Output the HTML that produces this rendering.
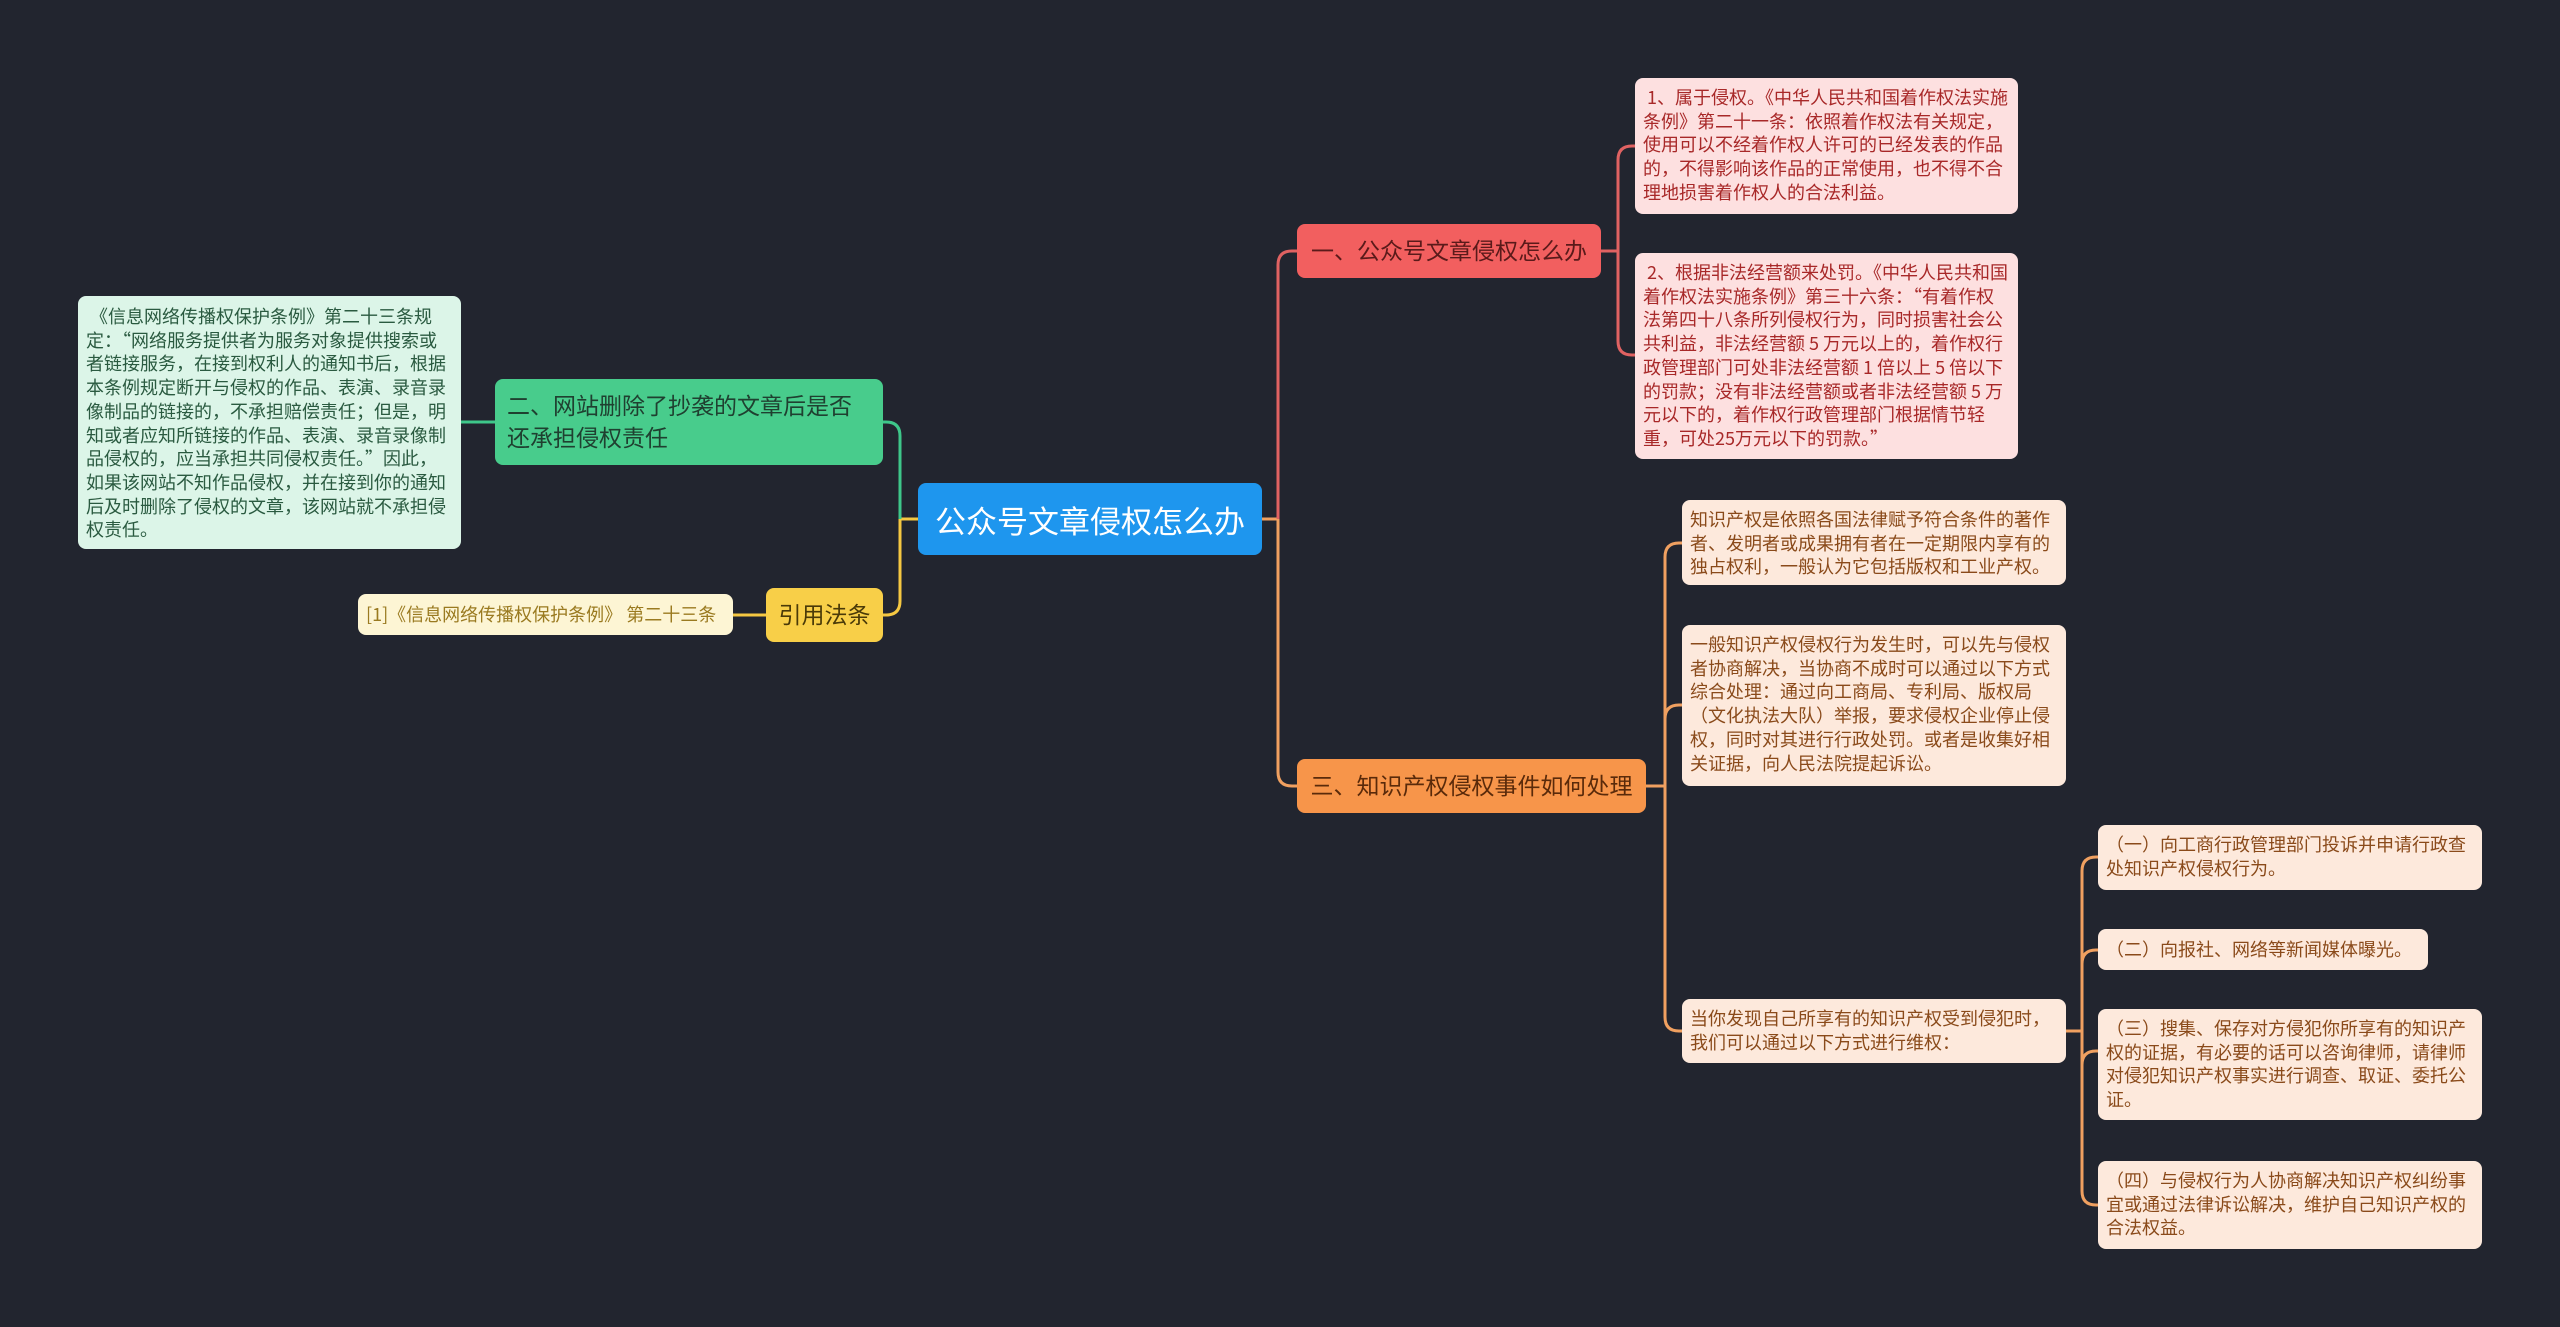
<!DOCTYPE html>
<html><head><meta charset="utf-8"><style>
html,body{margin:0;padding:0}
body{width:2560px;height:1327px;background:#22252f;position:relative;overflow:hidden;font-family:"Liberation Sans","Noto Sans CJK SC",sans-serif}
.n{position:absolute;box-sizing:border-box;border-radius:8px}
.leaf{font-family:"Noto Sans CJK SC",sans-serif;font-size:18px;line-height:23.7px;padding:8px 8px 6px;word-break:break-all}
.br{font-size:23px;line-height:32px;padding:0 12px;display:flex;align-items:center}
svg{position:absolute;left:0;top:0}
</style></head><body>
<svg width="2560" height="1327" fill="none" stroke-width="3">
<path d="M1262 519 H1278" stroke="#f0a060"/>
<path d="M1278 519 V265 Q1278 251 1292 251 H1297" stroke="#e06262"/>
<path d="M1278 519 V772 Q1278 786 1292 786 H1297" stroke="#f0a060"/>
<path d="M1601 251 H1618" stroke="#e06262"/>
<path d="M1618 251 V160 Q1618 146 1632 146 H1635" stroke="#e06262"/>
<path d="M1618 251 V341 Q1618 355 1632 355 H1635" stroke="#e06262"/>
<path d="M1646 786 H1665" stroke="#f0a060"/>
<path d="M1665 786 V557 Q1665 543 1679 543 H1682" stroke="#f0a060"/>
<path d="M1665 786 V719 Q1665 705 1679 705 H1682" stroke="#f0a060"/>
<path d="M1665 786 V1017 Q1665 1031 1679 1031 H1682" stroke="#f0a060"/>
<path d="M2066 1031 H2082" stroke="#f0a060"/>
<path d="M2082 1031 V871 Q2082 857 2096 857 H2098" stroke="#f0a060"/>
<path d="M2082 1031 V964 Q2082 950 2096 950 H2098" stroke="#f0a060"/>
<path d="M2082 1031 V1065 Q2082 1051 2096 1051 H2098" stroke="#f0a060"/>
<path d="M2082 1031 V1191 Q2082 1205 2096 1205 H2098" stroke="#f0a060"/>
<path d="M918 519 H900" stroke="#f5c842"/>
<path d="M900 519 V436 Q900 422 886 422 H883" stroke="#3ec78a"/>
<path d="M900 519 V601 Q900 615 886 615 H883" stroke="#f5c842"/>
<path d="M495 422 H460" stroke="#3ec78a"/>
<path d="M766 615 H733" stroke="#f5c842"/>
</svg>

<div class="n" style="left:918px;top:483px;width:344px;height:72px;background:#1e96ee;color:#fff;font-size:31px;display:flex;align-items:center;justify-content:center">公众号文章侵权怎么办</div>

<div class="n br" style="left:1297px;top:224px;width:304px;height:54px;background:#f25f5f;color:#5a1a1a;justify-content:center">一、公众号文章侵权怎么办</div>
<div class="n leaf" style="left:1635px;top:78px;width:383px;height:136px;background:#fde0e0;color:#a82828">&nbsp;1、属于侵权。《中华人民共和国着作权法实施条例》第二十一条：依照着作权法有关规定，使用可以不经着作权人许可的已经发表的作品的，不得影响该作品的正常使用，也不得不合理地损害着作权人的合法利益。</div>
<div class="n leaf" style="left:1635px;top:253px;width:383px;height:206px;background:#fde0e0;color:#a82828">&nbsp;2、根据非法经营额来处罚。《中华人民共和国着作权法实施条例》第三十六条：“有着作权法第四十八条所列侵权行为，同时损害社会公共利益，非法经营额 5 万元以上的，着作权行政管理部门可处非法经营额 1 倍以上 5 倍以下的罚款；没有非法经营额或者非法经营额 5 万元以下的，着作权行政管理部门根据情节轻重，可处25万元以下的罚款。”</div>

<div class="n br" style="left:1297px;top:759px;width:349px;height:54px;background:#f7954a;color:#5a2a0a;justify-content:center">三、知识产权侵权事件如何处理</div>
<div class="n leaf" style="left:1682px;top:500px;width:384px;height:85px;background:#fde9dc;color:#8a4a1a">知识产权是依照各国法律赋予符合条件的著作者、发明者或成果拥有者在一定期限内享有的独占权利，一般认为它包括版权和工业产权。</div>
<div class="n leaf" style="left:1682px;top:625px;width:384px;height:161px;background:#fde9dc;color:#8a4a1a">一般知识产权侵权行为发生时，可以先与侵权者协商解决，当协商不成时可以通过以下方式综合处理：通过向工商局、专利局、版权局（文化执法大队）举报，要求侵权企业停止侵权，同时对其进行行政处罚。或者是收集好相关证据，向人民法院提起诉讼。</div>
<div class="n leaf" style="left:1682px;top:999px;width:384px;height:64px;background:#fde9dc;color:#8a4a1a">当你发现自己所享有的知识产权受到侵犯时，我们可以通过以下方式进行维权：</div>
<div class="n leaf" style="left:2098px;top:825px;width:384px;height:65px;background:#fde9dc;color:#8a4a1a">（一）向工商行政管理部门投诉并申请行政查处知识产权侵权行为。</div>
<div class="n leaf" style="left:2098px;top:929px;width:330px;height:41px;background:#fde9dc;color:#8a4a1a;padding-top:9px">（二）向报社、网络等新闻媒体曝光。</div>
<div class="n leaf" style="left:2098px;top:1009px;width:384px;height:111px;background:#fde9dc;color:#8a4a1a">（三）搜集、保存对方侵犯你所享有的知识产权的证据，有必要的话可以咨询律师，请律师对侵犯知识产权事实进行调查、取证、委托公证。</div>
<div class="n leaf" style="left:2098px;top:1161px;width:384px;height:88px;background:#fde9dc;color:#8a4a1a">（四）与侵权行为人协商解决知识产权纠纷事宜或通过法律诉讼解决，维护自己知识产权的合法权益。</div>

<div class="n br" style="left:495px;top:379px;width:388px;height:86px;background:#48cc8c;color:#1f4030">二、网站删除了抄袭的文章后是否还承担侵权责任</div>
<div class="n leaf" style="left:78px;top:296px;width:383px;height:253px;background:#dcf5e8;color:#2a5a40;padding-top:9px">&nbsp;《信息网络传播权保护条例》第二十三条规定：“网络服务提供者为服务对象提供搜索或者链接服务，在接到权利人的通知书后，根据本条例规定断开与侵权的作品、表演、录音录像制品的链接的，不承担赔偿责任；但是，明知或者应知所链接的作品、表演、录音录像制品侵权的，应当承担共同侵权责任。”因此，如果该网站不知作品侵权，并在接到你的通知后及时删除了侵权的文章，该网站就不承担侵权责任。</div>

<div class="n br" style="left:766px;top:588px;width:117px;height:54px;background:#f8cf48;color:#4a3a08;justify-content:center">引用法条</div>
<div class="n leaf" style="left:358px;top:594px;width:375px;height:41px;background:#fdf5d4;color:#9a7a20;padding-top:9px;white-space:nowrap">[1]《信息网络传播权保护条例》 第二十三条</div>
</body></html>
